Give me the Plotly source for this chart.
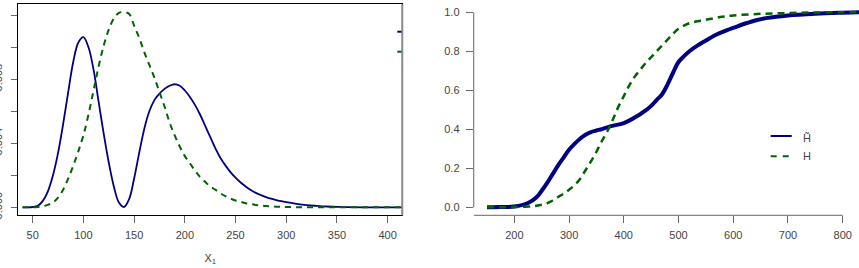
import plotly.graph_objects as go

# ---------------- data: left panel (densities) ----------------
dens_x = [40, 45, 50, 55, 60, 65, 70, 75, 80, 85, 90, 95, 100, 105, 110, 115, 120,
          125, 130, 135, 140, 145, 150, 155, 160, 165, 170, 175, 180, 185, 190,
          195, 200, 205, 210, 215, 220, 225, 230, 235, 240, 245, 250, 255, 260,
          265, 270, 275, 280, 285, 290, 295, 300, 310, 320, 330, 340, 350, 360,
          380, 400, 420]
dens_blue = [0, 0, 0.00002, 0.0001, 0.0004, 0.0010, 0.0020, 0.0034, 0.0052, 0.0072,
             0.0091, 0.0103, 0.01063, 0.0100, 0.0086, 0.0066, 0.0046, 0.0028,
             0.0013, 0.0003, 0.00002, 0.0005, 0.0018, 0.0034, 0.0049, 0.0060, 0.0067,
             0.0071, 0.0074, 0.0076, 0.00769, 0.0076, 0.0073, 0.0069, 0.0064,
             0.0058, 0.0051, 0.0044, 0.0037, 0.0031, 0.00262, 0.0022, 0.00185,
             0.00155, 0.0013, 0.00108, 0.0009, 0.00076, 0.00064, 0.00054, 0.00045,
             0.00038, 0.00032, 0.00022, 0.00014, 0.00009, 0.00005, 0.00003, 0.00001,
             0, 0, 0]
dens_green = [0, 0, 0, 0.00002, 0.00006, 0.00015, 0.0003, 0.0006, 0.0011, 0.0018,
              0.0026, 0.0035, 0.0045, 0.0058, 0.0073, 0.0088, 0.0101, 0.0111,
              0.0118, 0.01215, 0.0122, 0.0121, 0.01135, 0.0106, 0.0097, 0.0089,
              0.0081, 0.0072, 0.0063, 0.0053, 0.0045, 0.0038, 0.0032, 0.00275,
              0.0023, 0.0019, 0.0016, 0.0013, 0.0011, 0.00088, 0.0007, 0.00055,
              0.00043, 0.00034, 0.00026, 0.0002, 0.00015, 0.00011, 0.00008,
              0.00006, 0.00004, 0.00003, 0.00002, 0.00001, 0.00001, 0, 0, 0, 0,
              0, 0, 0]

# ---------------- data: right panel (distribution functions) ----------------
cdf_x_blue = [150, 175, 200, 225, 240, 250, 260, 270, 280, 290, 300, 310, 320, 330,
              340, 350, 360, 375, 400, 420, 440, 450, 460, 470, 480, 490, 500, 510,
              520, 535, 550, 565, 590, 600, 625, 640, 660, 700, 750, 800, 830]
cdf_blue = [0, 0.001, 0.004, 0.022, 0.05, 0.085, 0.125, 0.17, 0.215, 0.255, 0.295,
            0.325, 0.352, 0.372, 0.386, 0.394, 0.401, 0.415, 0.432, 0.46, 0.497,
            0.52, 0.55, 0.58, 0.63, 0.69, 0.745, 0.775, 0.80, 0.83, 0.855, 0.88,
            0.91, 0.92, 0.945, 0.958, 0.97, 0.984, 0.993, 0.998, 1.0]
cdf_x_green = [150, 175, 200, 225, 240, 250, 260, 270, 280, 290, 300, 310, 320, 330,
               340, 350, 360, 370, 380, 390, 400, 410, 420, 430, 440, 450, 460, 470,
               480, 490, 500, 510, 520, 540, 560, 580, 600, 650, 700, 750, 800, 830]
cdf_green = [0, 0, 0.001, 0.004, 0.008, 0.013, 0.021, 0.035, 0.053, 0.07, 0.09,
             0.113, 0.145, 0.19, 0.235, 0.285, 0.34, 0.39, 0.45, 0.515, 0.57,
             0.625, 0.67, 0.705, 0.74, 0.77, 0.80, 0.83, 0.86, 0.89, 0.915, 0.932,
             0.944, 0.957, 0.967, 0.977, 0.984, 0.992, 0.996, 0.999, 1.0, 1.0]

left_xticks = [50, 100, 150, 200, 250, 300, 350, 400]
left_yticks = [0.000, 0.004, 0.008, 0.012]
left_yticktext = ["0.000", "0.004", "0.008", "0.012"]
left_yminor_step = 0.002
right_xticks = [200, 300, 400, 500, 600, 700, 800]
right_yticks = [0.0, 0.2, 0.4, 0.6, 0.8, 1.0]
right_yticktext = ["0.0", "0.2", "0.4", "0.6", "0.8", "1.0"]
legend_labels = ["H\u0303", "H"]

BLUE = "#000080"
GREEN = "#006400"
TXT = "#444444"
FONT = "Liberation Sans"

fig = go.Figure()

fig.add_trace(go.Scatter(x=dens_x, y=dens_blue, mode="lines", xaxis="x", yaxis="y",
                         line=dict(color=BLUE, width=1.8, shape="spline", smoothing=1.0),
                         showlegend=False, hoverinfo="skip"))
fig.add_trace(go.Scatter(x=dens_x, y=dens_green, mode="lines", xaxis="x", yaxis="y",
                         line=dict(color=GREEN, width=2, dash="6px,5px", shape="spline",
                                   smoothing=1.0),
                         showlegend=False, hoverinfo="skip"))
fig.add_trace(go.Scatter(x=cdf_x_blue, y=cdf_blue, mode="lines", xaxis="x2", yaxis="y2",
                         line=dict(color=BLUE, width=4, shape="spline", smoothing=1.0),
                         showlegend=False, hoverinfo="skip"))
fig.add_trace(go.Scatter(x=cdf_x_green, y=cdf_green, mode="lines", xaxis="x2", yaxis="y2",
                         line=dict(color=GREEN, width=2.5, dash="7px,5px", shape="spline",
                                   smoothing=1.0),
                         showlegend=False, hoverinfo="skip"))

ydom = [0.1966, 0.984]
tickfont = dict(family=FONT, size=11, color=TXT)

fig.update_layout(
    width=859, height=268,
    margin=dict(l=0, r=0, t=0, b=0),
    paper_bgcolor="white", plot_bgcolor="white",
    font=dict(family=FONT, size=11, color=TXT),
    xaxis=dict(domain=[0.0213, 0.4683], range=[35.8, 414.4], tickvals=left_xticks,
               showline=True, linecolor="black", linewidth=1, mirror=True,
               showgrid=False, zeroline=False, ticks="outside", ticklen=7,
               tickcolor="#666666", tickfont=tickfont, automargin=False,
               ticklabelstandoff=2,
               title=dict(text="X<sub>1</sub>", font=dict(family=FONT, size=11, color=TXT),
                          standoff=14),
               anchor="y"),
    yaxis=dict(domain=ydom, range=[-0.0005, 0.012688], tickvals=left_yticks,
               ticktext=left_yticktext, tickangle=-90, showline=True, linecolor="black",
               linewidth=1, mirror=True, anchor="x", ticklabelstandoff=5,
               showgrid=False, zeroline=False, ticks="outside", ticklen=6,
               tickcolor="#666666", tickfont=tickfont, automargin=False,
               minor=dict(ticks="outside", ticklen=6, tick0=0, dtick=left_yminor_step,
                          tickcolor="#666666", showgrid=False)),
    xaxis2=dict(domain=[0.5515, 1.0], range=[125.8, 829.8], tickvals=right_xticks,
                showline=False, anchor="y2", showgrid=False, zeroline=False,
                ticks="outside", ticklen=7, tickcolor="#666666", tickfont=tickfont,
                automargin=False, ticklabelstandoff=2),
    yaxis2=dict(domain=ydom, range=[-0.041, 1.041], tickvals=right_yticks,
                ticktext=right_yticktext, showline=False, anchor="x2", showgrid=False,
                zeroline=False, ticks="outside", ticklen=7, tickcolor="#666666",
                tickfont=tickfont, automargin=False, ticklabelstandoff=4),
)

shapes = []
# gray right edge of left panel
shapes.append(dict(type="line", xref="x domain", yref="y domain", x0=1, x1=1, y0=0, y1=1,
                   line=dict(color="#8a8a8a", width=2)))
# clipped legend fragments at the right edge of the left panel
shapes.append(dict(type="line", xref="paper", yref="paper", x0=397.3 / 859, x1=401.5 / 859,
                   y0=1 - 31.7 / 268, y1=1 - 31.7 / 268, line=dict(color=BLUE, width=2)))
shapes.append(dict(type="line", xref="paper", yref="paper", x0=397.3 / 859, x1=401.5 / 859,
                   y0=1 - 51.7 / 268, y1=1 - 51.7 / 268, line=dict(color=GREEN, width=2)))
# right panel axis lines (R style)
shapes.append(dict(type="line", xref="x2 domain", yref="y2", x0=0, x1=0, y0=0, y1=1,
                   line=dict(color="#666666", width=1)))
shapes.append(dict(type="line", xref="x2", yref="y2 domain", x0=125.8, x1=800, y0=0, y1=0,
                   line=dict(color="#666666", width=1)))
# legend in right panel
shapes.append(dict(type="line", xref="paper", yref="paper", x0=770.7 / 859, x1=791.7 / 859,
                   y0=1 - 136 / 268, y1=1 - 136 / 268, line=dict(color=BLUE, width=2)))
shapes.append(dict(type="line", xref="paper", yref="paper", x0=770.7 / 859, x1=791.7 / 859,
                   y0=1 - 156.3 / 268, y1=1 - 156.3 / 268,
                   line=dict(color=GREEN, width=2, dash="6px,6px")))
fig.update_layout(shapes=shapes)

for lab, yy in zip(legend_labels, [137.5, 156.3]):
    fig.add_annotation(x=801 / 859, y=1 - yy / 268, xref="paper", yref="paper",
                       text=lab, showarrow=False, xanchor="left", yanchor="middle",
                       font=dict(family=FONT, size=11, color=TXT))

fig.write_html("out.html")
